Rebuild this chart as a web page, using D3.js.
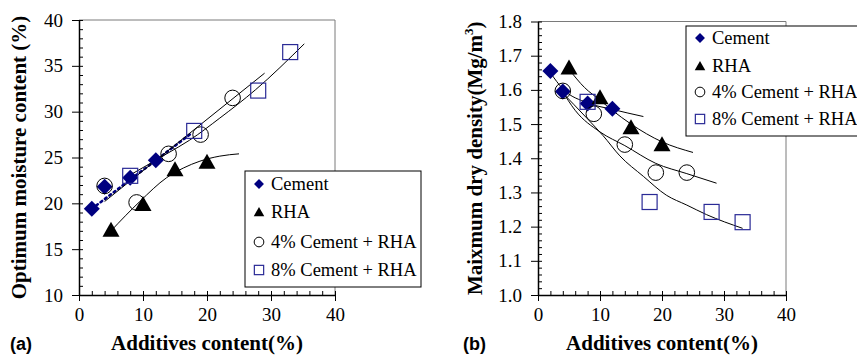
<!DOCTYPE html>
<html>
<head>
<meta charset="utf-8">
<script src="https://cdn.jsdelivr.net/npm/d3@7"></script>
<style>
  html, body { margin: 0; padding: 0; background: #fff; }
  svg { display: block; }
</style>
</head>
<body>
<div id="chart"></div>
<script>
/* Two-panel compaction chart: (a) optimum moisture, (b) max dry density */

const X_TICKS = [0, 10, 20, 30, 40];
const Y_TICKS_A = [10, 15, 20, 25, 30, 35, 40];
const Y_TICKS_B = [1.0, 1.1, 1.2, 1.3, 1.4, 1.5, 1.6, 1.7, 1.8];
const SERIES = ['Cement', 'RHA', '4% Cement + RHA', '8% Cement + RHA'];

// panel (a) measured points
const cementX_A = [2, 4, 8, 12];
const cementY_A = [19.4, 21.8, 22.8, 24.7];
const rhaX_A = [5, 10, 15, 20];
const rhaY_A = [17.1, 19.9, 23.7, 24.5];
const c4X_A = [4, 9, 14, 19, 24];
const c4Y_A = [21.9, 20.1, 25.4, 27.5, 31.5];
const c8X_A = [8, 18, 28, 33];
const c8Y_A = [23.0, 27.9, 32.3, 36.5];

// panel (a) trend lines
const cementFitA = [[2, 19.4], [17.5, 27.6]];
const rhaFitA = [[5, 17.0], [9.5, 20.2], [13.7, 22.8], [16.3, 23.85], [18.9, 24.6], [22, 25.15], [25, 25.4]];
const c4FitA = [[4, 20.2], [29, 34.2]];
const c8FitA = [[7.5, 22.9], [13.7, 25.4], [17.3, 26.9], [22, 29.3], [27.6, 32.4], [35.2, 37.4]];

// panel (b) measured points
const cementX_B = [2, 4, 8, 12];
const cementY_B = [1.655, 1.595, 1.56, 1.545];
const rhaX_B = [5, 10, 15, 20];
const rhaY_B = [1.665, 1.578, 1.49, 1.44];
const c4X_B = [4, 9, 14, 19, 24];
const c4Y_B = [1.597, 1.53, 1.44, 1.358, 1.358];
const c8X_B = [8, 18, 28, 33];
const c8Y_B = [1.565, 1.272, 1.243, 1.213];

// panel (b) trend curves
const cementFitB = [[2, 1.65], [4, 1.603], [8, 1.562], [12, 1.543], [17, 1.522]];
const rhaFitB = [[5, 1.66], [7.5, 1.607], [10, 1.57], [12, 1.54], [15, 1.5], [20, 1.448], [25, 1.417]];
const c4FitB = [[3.8, 1.6], [6, 1.54], [10, 1.477], [14, 1.437], [19, 1.385], [24, 1.355], [28.8, 1.327]];
const c8FitB = [[3.5, 1.6], [8, 1.515], [10.5, 1.466], [13.2, 1.407], [17, 1.347], [20.7, 1.292], [24, 1.263], [27.2, 1.235], [33, 1.195]];

const NAVY = '#000080';
const SQ = '#2a2a96';
const SERIF = "'Liberation Serif', 'Times New Roman', serif";
const SANS = "'Liberation Sans', Arial, sans-serif";

const svg = d3.select('#chart').append('svg')
  .attr('width', 857).attr('height', 360);

// --- marker shapes ---
function drawMarker(g, type, cx, cy, k = 1) {
  if (type === 0) {
    const s = 8 * k;
    g.append('path')
      .attr('d', `M${cx},${cy - s}L${cx + s},${cy}L${cx},${cy + s}L${cx - s},${cy}Z`)
      .attr('fill', NAVY);
  } else if (type === 1) {
    const w = 17 * k, h = 15 * k;
    g.append('path')
      .attr('d', `M${cx},${cy - h * 0.55}L${cx + w / 2},${cy + h * 0.45}L${cx - w / 2},${cy + h * 0.45}Z`)
      .attr('fill', '#000');
  } else if (type === 2) {
    g.append('circle')
      .attr('cx', cx).attr('cy', cy).attr('r', 7.8 * k)
      .attr('fill', 'none').attr('stroke', '#000').attr('stroke-width', 1);
  } else {
    const s = 15 * k;
    g.append('rect')
      .attr('x', cx - s / 2).attr('y', cy - s / 2)
      .attr('width', s).attr('height', s)
      .attr('fill', 'none').attr('stroke', SQ).attr('stroke-width', 1.2);
  }
}

function drawPanel(cfg) {
  const { x, y } = cfg;
  const g = svg.append('g');

  // frame (top/right in grey)
  g.append('path')
    .attr('d', `M${x.range()[0]},${y.range()[1]}H${x.range()[1]}V${y.range()[0]}`)
    .attr('fill', 'none').attr('stroke', '#7a7a7a').attr('stroke-width', 1);

  // minor ticks, inside
  const yMinor = d3.range(cfg.yDomain[0], cfg.yDomain[1] + 1e-9, cfg.yMinorStep);
  const xMinor = d3.range(0, 40 + 1e-9, 2);
  const ym = g.append('g')
    .attr('transform', `translate(${x.range()[0]},0)`)
    .call(d3.axisLeft(y).tickValues(yMinor).tickSize(-4).tickFormat(''));
  const xm = g.append('g')
    .attr('transform', `translate(0,${y.range()[0]})`)
    .call(d3.axisBottom(x).tickValues(xMinor).tickSize(-4).tickFormat(''));
  [ym, xm].forEach(a => {
    a.select('.domain').remove();
    a.selectAll('line').attr('stroke', '#000');
  });

  // major axes
  const ya = g.append('g')
    .attr('transform', `translate(${x.range()[0]},0)`)
    .call(d3.axisLeft(y).tickValues(cfg.yTicks).tickSize(7).tickSizeOuter(0)
      .tickPadding(9).tickFormat(cfg.yFormat));
  const xa = g.append('g')
    .attr('transform', `translate(0,${y.range()[0]})`)
    .call(d3.axisBottom(x).tickValues(X_TICKS).tickSize(6).tickSizeOuter(0).tickPadding(7));
  [ya, xa].forEach(a => {
    a.select('.domain').attr('stroke', '#000').attr('stroke-width', 1.5);
    a.selectAll('line').attr('stroke', '#000');
    a.selectAll('text')
      .attr('fill', '#000')
      .style('font-family', SERIF)
      .style('font-size', '19px');
  });

  // trend lines
  const line = d3.line().x(d => x(d[0])).y(d => y(d[1])).curve(d3.curveMonotoneX);
  cfg.fits.forEach(f => {
    g.append('path')
      .datum(f.pts)
      .attr('d', line)
      .attr('fill', 'none')
      .attr('stroke', f.color || '#000')
      .attr('stroke-width', f.width || 1)
      .attr('stroke-dasharray', f.dash || null)
      .attr('stroke-linecap', f.dash ? 'round' : null);
  });

  // markers
  cfg.series.forEach((s, i) => {
    s.xs.forEach((v, j) => drawMarker(g, i, x(v), y(s.ys[j])));
  });

  // legend
  const lg = g.append('g').attr('transform', `translate(${cfg.legend.x},${cfg.legend.y})`);
  lg.append('rect')
    .attr('width', cfg.legend.w).attr('height', cfg.legend.h)
    .attr('fill', '#fff').attr('stroke', '#000').attr('stroke-width', 1);
  SERIES.forEach((name, i) => {
    const ry = cfg.legend.rows[i];
    drawMarker(lg, i, 14, ry, 0.62);
    lg.append('text')
      .attr('x', 26).attr('y', ry + 6)
      .attr('fill', '#000')
      .style('font-family', SERIF)
      .style('font-size', '18.5px')
      .text(name);
  });

  // axis titles
  g.append('text')
    .attr('x', (x.range()[0] + x.range()[1]) / 2).attr('y', 350)
    .attr('text-anchor', 'middle')
    .style('font-family', SERIF).style('font-weight', 'bold').style('font-size', '21px')
    .text('Additives content(%)');
  const yt = g.append('text')
    .attr('transform', `translate(${cfg.yTitleX},${(y.range()[0] + y.range()[1]) / 2}) rotate(-90)`)
    .attr('text-anchor', 'middle')
    .style('font-family', SERIF).style('font-weight', 'bold').style('font-size', '21px');
  cfg.yTitle(yt);

  g.append('text')
    .attr('x', cfg.tag.x).attr('y', 350)
    .style('font-family', SANS).style('font-weight', 'bold').style('font-size', '18px')
    .text(cfg.tag.text);
}

drawPanel({
  x: d3.scaleLinear().domain([0, 40]).range([79, 335]),
  y: d3.scaleLinear().domain([10, 40]).range([295, 20]),
  yDomain: [10, 40], yMinorStep: 1, yTicks: Y_TICKS_A, yFormat: d3.format('d'),
  fits: [
    { pts: cementFitA, color: NAVY, width: 2.6, dash: '2,3.5' },
    { pts: rhaFitA },
    { pts: c4FitA },
    { pts: c8FitA }
  ],
  series: [
    { xs: cementX_A, ys: cementY_A },
    { xs: rhaX_A, ys: rhaY_A },
    { xs: c4X_A, ys: c4Y_A },
    { xs: c8X_A, ys: c8Y_A }
  ],
  legend: { x: 245, y: 171, w: 176, h: 116, rows: [13, 41, 71, 99] },
  yTitleX: 26,
  yTitle: t => t.text('Optimum moisture content (%)'),
  tag: { x: 10, text: '(a)' }
});

drawPanel({
  x: d3.scaleLinear().domain([0, 40]).range([538, 786]),
  y: d3.scaleLinear().domain([1.0, 1.8]).range([295, 21.5]),
  yDomain: [1.0, 1.8], yMinorStep: 0.02, yTicks: Y_TICKS_B, yFormat: d3.format('.1f'),
  fits: [
    { pts: cementFitB },
    { pts: rhaFitB },
    { pts: c4FitB },
    { pts: c8FitB }
  ],
  series: [
    { xs: cementX_B, ys: cementY_B },
    { xs: rhaX_B, ys: rhaY_B },
    { xs: c4X_B, ys: c4Y_B },
    { xs: c8X_B, ys: c8Y_B }
  ],
  legend: { x: 686, y: 26, w: 200, h: 110, rows: [12, 40, 66, 93] },
  yTitleX: 482,
  yTitle: t => {
    t.append('tspan').text('Maixmum dry density(Mg/m');
    t.append('tspan').attr('dy', -9).style('font-size', '13px').text('3');
    t.append('tspan').attr('dy', 9).text(')');
  },
  tag: { x: 463, text: '(b)' }
});
</script>
</body>
</html>
